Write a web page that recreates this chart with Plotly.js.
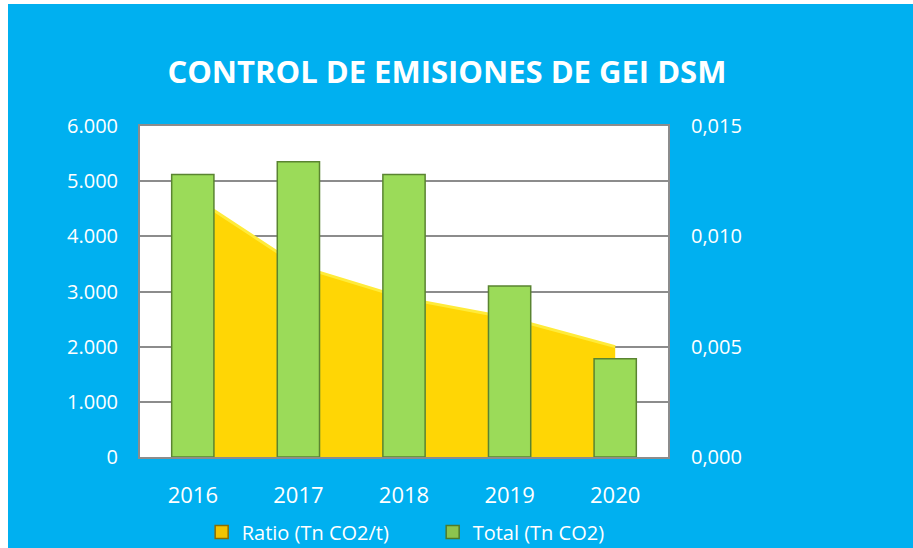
<!DOCTYPE html>
<html>
<head>
<meta charset="utf-8">
<script src="https://cdn.plot.ly/plotly-3.0.1.min.js"></script>
<style>
  html, body { margin: 0; padding: 0; background: #ffffff; }
  #chart { position: absolute; left: 8px; top: 4px; width: 905px; height: 544px; }
</style>
</head>
<body>
<div id="chart"></div>
<script>
const years = ['2016', '2017', '2018', '2019', '2020'];
const totalCO2 = [5120, 5350, 5120, 3100, 1780];
const ratioCO2 = [0.0118, 0.00866, 0.0072, 0.0063, 0.0050];
const leftTicks = [0, 1000, 2000, 3000, 4000, 5000, 6000];
const rightTicks = [0, 0.005, 0.010, 0.015];
const ratioName = 'Ratio (Tn CO2/t)';
const totalName = 'Total (Tn CO2)';

const FONT = '"Open Sans", "Noto Sans", sans-serif';

const ratioTrace = {
  x: years,
  y: ratioCO2,
  name: ratioName,
  legendgroup: 'ratio',
  showlegend: false,
  type: 'scatter',
  mode: 'lines',
  fill: 'tozeroy',
  fillcolor: '#FFD605',
  line: { color: '#FFEB3A', width: 3 },
  yaxis: 'y'
};

const totalTrace = {
  x: years,
  y: totalCO2,
  name: totalName,
  legendgroup: 'total',
  showlegend: false,
  type: 'bar',
  width: 0.4,
  marker: { color: '#9BDB59', line: { color: '#5A8431', width: 1.5 } },
  yaxis: 'y2'
};

// legend keys (square swatches like the original)
const ratioKey = {
  x: [null], y: [null], name: ratioName, legendgroup: 'ratio',
  type: 'scatter', mode: 'markers', yaxis: 'y',
  marker: { symbol: 'square', size: 13, color: '#F2C400', line: { color: '#8A6D00', width: 1.5 } }
};
const totalKey = {
  x: [null], y: [null], name: totalName, legendgroup: 'total',
  type: 'scatter', mode: 'markers', yaxis: 'y2',
  marker: { symbol: 'square', size: 13, color: '#8CC44E', line: { color: '#4E7A2A', width: 1.5 } }
};

const layout = {
  width: 905,
  height: 544,
  paper_bgcolor: '#00B0F0',
  plot_bgcolor: '#FFFFFF',
  separators: ',.',
  margin: { l: 132, r: 245, t: 122, b: 91 },
  font: { family: FONT, color: '#FFFFFF', size: 19 },
  title: {
    text: '<b>CONTROL DE EMISIONES DE GEI DSM</b>',
    font: { family: FONT, size: 31, color: '#FFFFFF' },
    xref: 'container', x: 0.485, xanchor: 'center',
    yref: 'container', y: 1 - 68 / 544, yanchor: 'middle'
  },
  showlegend: true,
  legend: {
    orientation: 'h',
    xref: 'container', x: 0.214, xanchor: 'left',
    yref: 'container', y: 16 / 544, yanchor: 'middle',
    font: { family: FONT, size: 20, color: '#FFFFFF' },
    bgcolor: 'rgba(0,0,0,0)',
    traceorder: 'normal',
    itemwidth: 30,
    entrywidth: 186
  },
  xaxis: {
    type: 'category',
    showgrid: false,
    showline: true, mirror: true, linecolor: '#8C8C8C', linewidth: 2,
    ticks: '',
    ticklabelstandoff: 18,
    tickfont: { family: FONT, size: 22, color: '#FFFFFF' },
    fixedrange: true
  },
  yaxis: {
    side: 'right',
    range: [0, 0.015],
    tickvals: rightTicks,
    tickformat: '.3f',
    showgrid: true,
    gridcolor: '#8C8C8C', gridwidth: 2,
    minor: { dtick: 0.0025, showgrid: true, gridcolor: '#8C8C8C', gridwidth: 2 },
    showline: true, mirror: true, linecolor: '#8C8C8C', linewidth: 2,
    zeroline: false,
    ticks: '',
    ticklabelstandoff: 17,
    tickfont: { family: FONT, size: 20, color: '#FFFFFF' },
    fixedrange: true
  },
  yaxis2: {
    overlaying: 'y',
    side: 'left',
    range: [0, 6000],
    tickvals: leftTicks,
    tickformat: ',d',
    showgrid: false,
    zeroline: false,
    showline: false,
    ticks: '',
    ticklabelstandoff: 21,
    tickfont: { family: FONT, size: 20, color: '#FFFFFF' },
    fixedrange: true
  },
  bargap: 0.6
};

Plotly.newPlot('chart', [ratioTrace, totalTrace, ratioKey, totalKey], layout, { displayModeBar: false, staticPlot: true });
</script>
</body>
</html>
